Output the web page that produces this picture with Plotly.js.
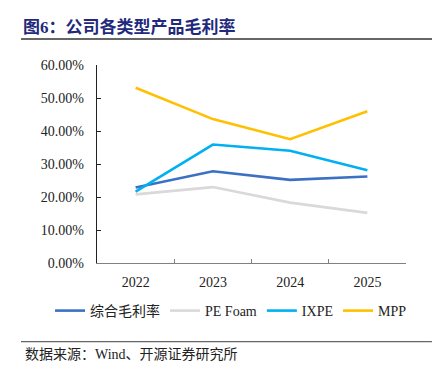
<!DOCTYPE html>
<html>
<head>
<meta charset="utf-8">
<script src="https://cdn.plot.ly/plotly-3.0.1.min.js"></script>
<style>html,body{margin:0;padding:0;background:#fff;}#chart{width:440px;height:374px;}</style>
</head>
<body>
<div id="chart"></div>
<script>
const years = ['2022', '2023', '2024', '2025'];
const overall = [0.229, 0.278, 0.252, 0.262];
const peFoam = [0.208, 0.230, 0.183, 0.152];
const ixpe = [0.216, 0.359, 0.340, 0.281];
const mpp = [0.531, 0.436, 0.375, 0.460];
const seriesNames = ['综合毛利率', 'PE Foam', 'IXPE', 'MPP'];
const yTicks = [0, 0.1, 0.2, 0.3, 0.4, 0.5, 0.6];

const FONT = '"Liberation Serif", "Times New Roman", "Noto Sans CJK SC", serif';
const colors = ['#3B70C4', '#D9D9D9', '#00B0F0', '#FFC000'];
const values = [overall, peFoam, ixpe, mpp];

const traces = values.map((v, i) => ({
  x: years, y: v, name: seriesNames[i], type: 'scatter', mode: 'lines',
  line: {color: colors[i], width: 2.6}
}));

const layout = {
  width: 440, height: 374,
  margin: {l: 97, r: 34, t: 65, b: 111},
  paper_bgcolor: '#fff', plot_bgcolor: '#fff',
  font: {family: FONT, size: 14, color: '#222'},
  title: {
    text: '<b>图6：公司各类型产品毛利率</b>',
    font: {family: FONT, size: 17, color: '#1F2A7C'},
    xref: 'container', yref: 'container',
    x: 23/440, xanchor: 'left', y: 1 - 27/374, yanchor: 'middle'
  },
  xaxis: {
    type: 'category', tickson: 'boundaries', range: [-0.5, 3.5],
    ticks: 'inside', ticklen: 4, tickcolor: '#808080',
    showline: true, linecolor: '#808080', linewidth: 1.3,
    showgrid: false, zeroline: false,
    ticklabelstandoff: 6,
    tickfont: {family: FONT, size: 14, color: '#222'}
  },
  yaxis: {
    range: [0, 0.6], tickvals: yTicks, tickformat: '.2%',
    ticks: 'inside', ticklen: 4, tickcolor: '#222',
    showline: true, linecolor: '#222', linewidth: 1.3,
    showgrid: false, zeroline: false,
    ticklabelstandoff: 9,
    tickfont: {family: FONT, size: 14, color: '#222'}
  },
  showlegend: true,
  legend: {
    orientation: 'h', x: -0.152, xanchor: 'left', y: -0.2424, yanchor: 'middle',
    font: {family: FONT, size: 14, color: '#222'}, itemwidth: 30, tracegroupgap: 0,
    bgcolor: 'rgba(0,0,0,0)'
  },
  shapes: [
    {type: 'line', xref: 'paper', yref: 'paper', x0: -0.246, x1: 1.0841, y0: 1.1313, y1: 1.1313,
     line: {color: '#333', width: 1.3}},
    {type: 'line', xref: 'paper', yref: 'paper', x0: -0.246, x1: 1.0841, y0: -0.3975, y1: -0.3975,
     line: {color: '#666', width: 1.3}}
  ],
  annotations: [
    {text: '数据来源：Wind、开源证券研究所', xref: 'paper', yref: 'paper',
     x: -0.2395, xanchor: 'left', y: -0.4596, yanchor: 'middle', showarrow: false,
     font: {family: FONT, size: 14, color: '#222'}}
  ]
};

Plotly.newPlot('chart', traces, layout, {displayModeBar: false, staticPlot: true});
</script>
</body>
</html>
